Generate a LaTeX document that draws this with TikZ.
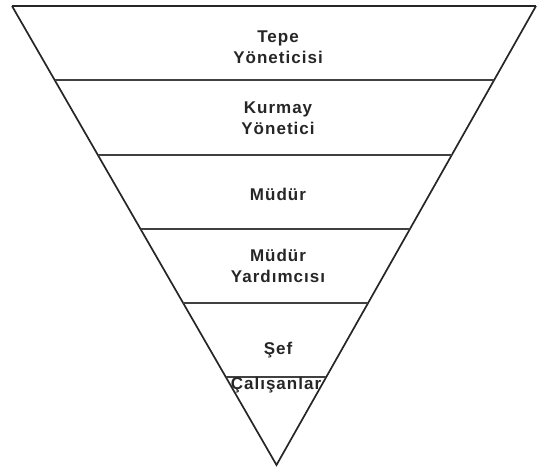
\documentclass[tikz,border=0pt]{standalone}
\usepackage{fontspec}
\setmainfont{Liberation Sans}[LetterSpace=6]
\usetikzlibrary{calc}
\begin{document}
\begin{tikzpicture}[x=1pt,y=-1pt,
  edge/.style={draw=black!85,line width=1.7pt},
  divider/.style={draw=black!75,line width=2pt},
  lbl/.style={font=\fontsize{17}{21}\selectfont\bfseries,align=center,inner sep=0pt,text=black!85}]
\useasboundingbox (0,0) rectangle (537,470);
\coordinate (L) at (12,6);
\coordinate (R) at (536,6);
\coordinate (A) at (276.5,465);
\draw[edge,line width=2.2pt] (L) -- (R);
\draw[edge] (L) -- (A) -- (R);
\foreach \t in {0.1612,0.3246,0.4869,0.6481,0.8083}{
  \draw[divider] ($(L)!\t!(A)$) -- ($(R)!\t!(A)$);
}
\node[lbl] (n1) at (278,47) {Tepe\\Yöneticisi};
\node[lbl] (n2) at (278,118) {Kurmay\\Yönetici};
\node[lbl] (n3) at (278,194) {Müdür};
\node[lbl] (n4) at (278,266) {Müdür\\Yardımcısı};
\node[lbl] (n5) at (278,350) {Şef};
\node[lbl] (n6) at (276,385) {Çalışanlar};
\end{tikzpicture}
\end{document}
